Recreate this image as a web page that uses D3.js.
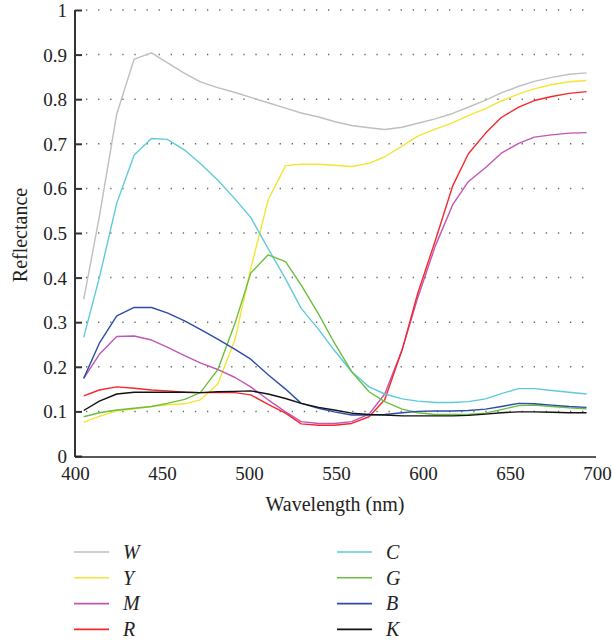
<!DOCTYPE html>
<html>
<head>
<meta charset="utf-8">
<script src="https://cdn.jsdelivr.net/npm/d3@7"></script>
<style>
  body { margin: 0; background: #fff; }
  svg text { font-family: 'Liberation Serif'; fill: #222; }
</style>
</head>
<body>
<script>
// sample wavelengths (nm)
var wavelengths = [405, 414, 424, 434, 444, 453, 463, 472, 482, 492, 501, 511, 521, 530, 540,
  549, 559, 569, 578, 588, 597, 607, 617, 626, 636, 645, 655, 664, 674, 684, 694];

var W = [0.351, 0.537, 0.767, 0.890, 0.904, 0.882, 0.858, 0.839, 0.826, 0.815, 0.804, 0.792, 0.780, 0.769, 0.760,
  0.750, 0.741, 0.736, 0.732, 0.737, 0.746, 0.756, 0.768, 0.782, 0.798, 0.814, 0.829, 0.840, 0.849, 0.856, 0.859];
var Y = [0.076, 0.089, 0.101, 0.106, 0.111, 0.115, 0.117, 0.126, 0.161, 0.262, 0.420, 0.574, 0.651, 0.654, 0.654,
  0.652, 0.649, 0.656, 0.671, 0.695, 0.717, 0.733, 0.747, 0.763, 0.779, 0.796, 0.812, 0.823, 0.833, 0.839, 0.842];
var M = [0.174, 0.228, 0.268, 0.269, 0.260, 0.244, 0.225, 0.209, 0.194, 0.176, 0.155, 0.126, 0.099, 0.077, 0.073,
  0.073, 0.077, 0.094, 0.139, 0.238, 0.355, 0.470, 0.563, 0.615, 0.647, 0.679, 0.701, 0.715, 0.720, 0.724, 0.725];
var R = [0.135, 0.148, 0.155, 0.152, 0.148, 0.146, 0.143, 0.142, 0.142, 0.142, 0.137, 0.116, 0.096, 0.072, 0.069,
  0.069, 0.073, 0.088, 0.126, 0.238, 0.365, 0.482, 0.605, 0.677, 0.724, 0.759, 0.782, 0.797, 0.806, 0.813, 0.817];
var C = [0.266, 0.400, 0.567, 0.675, 0.712, 0.710, 0.686, 0.656, 0.619, 0.576, 0.535, 0.465, 0.397, 0.331, 0.284,
  0.237, 0.189, 0.155, 0.139, 0.128, 0.123, 0.120, 0.120, 0.122, 0.128, 0.140, 0.151, 0.151, 0.147, 0.143, 0.139];
var G = [0.088, 0.097, 0.103, 0.107, 0.111, 0.118, 0.127, 0.142, 0.193, 0.298, 0.410, 0.451, 0.436, 0.383, 0.318,
  0.254, 0.189, 0.144, 0.122, 0.105, 0.097, 0.093, 0.093, 0.093, 0.096, 0.104, 0.113, 0.114, 0.111, 0.108, 0.106];
var B = [0.174, 0.253, 0.314, 0.333, 0.333, 0.321, 0.303, 0.284, 0.262, 0.239, 0.217, 0.182, 0.150, 0.118, 0.107,
  0.099, 0.092, 0.092, 0.093, 0.097, 0.100, 0.101, 0.101, 0.102, 0.105, 0.111, 0.118, 0.117, 0.114, 0.111, 0.109];
var K = [0.102, 0.123, 0.139, 0.143, 0.143, 0.143, 0.143, 0.142, 0.144, 0.145, 0.146, 0.139, 0.129, 0.118, 0.109,
  0.103, 0.096, 0.093, 0.092, 0.090, 0.090, 0.090, 0.090, 0.091, 0.094, 0.097, 0.099, 0.099, 0.098, 0.097, 0.097];

var seriesNames = ['W', 'Y', 'M', 'R', 'C', 'G', 'B', 'K'];
var seriesValues = [W, Y, M, R, C, G, B, K];
var seriesColors = ['#bfbfbf', '#f2e534', '#c156b4', '#f5282d', '#5fcadb', '#6abf3f', '#2c4da6', '#111111'];

var xTicks = [400, 450, 500, 550, 600, 650, 700];
var yTicks = [0, 0.1, 0.2, 0.3, 0.4, 0.5, 0.6, 0.7, 0.8, 0.9, 1];

var width = 612, height = 640;
var svg = d3.select('body').append('svg')
  .attr('width', width).attr('height', height);

var x = d3.scaleLinear().domain([400, 700]).range([75, 597]);
var y = d3.scaleLinear().domain([0, 1]).range([456, 10]);

// dotted grid
svg.append('g').selectAll('line')
  .data(yTicks.filter(function(d) { return d > 0; }))
  .enter().append('line')
  .attr('x1', 86).attr('x2', 594)
  .attr('y1', function(d) { return y(d); })
  .attr('y2', function(d) { return y(d); })
  .attr('stroke', '#666')
  .attr('stroke-width', 1.5)
  .attr('stroke-dasharray', '1.3,10.8');

// y axis
var yAxis = svg.append('g').attr('transform', 'translate(75,0)')
  .call(d3.axisRight(y).tickValues(yTicks).tickSize(7).tickFormat(function(d) { return d3.format('~g')(d); }));
yAxis.attr('font-family', 'Liberation Serif').attr('font-size', 19);
yAxis.select('.domain').attr('stroke', '#333').attr('stroke-width', 2).attr('d', 'M0,' + y(1) + 'V' + (y(0) + 1));
yAxis.selectAll('.tick line').attr('stroke', '#333').attr('stroke-width', 2);
yAxis.selectAll('.tick text')
  .attr('x', -8).attr('dy', '0.34em')
  .attr('text-anchor', 'end');

// x axis
var xAxis = svg.append('g').attr('transform', 'translate(0,' + (y(0) + 1) + ')')
  .call(d3.axisBottom(x).tickValues(xTicks).tickSize(0));
xAxis.attr('font-family', 'Liberation Serif').attr('font-size', 19);
xAxis.select('.domain').attr('stroke', '#222').attr('stroke-width', 1.5).attr('d', 'M75,0H596');
xAxis.selectAll('.tick text')
  .attr('y', 23).attr('dy', null);

svg.append('text')
  .attr('x', 335).attr('y', 511)
  .attr('text-anchor', 'middle')
  .attr('font-size', 20)
  .text('Wavelength (nm)');

svg.append('text')
  .attr('transform', 'translate(27,235) rotate(-90)')
  .attr('text-anchor', 'middle')
  .attr('font-size', 20)
  .text('Reflectance');

// curves
var line = d3.line()
  .x(function(d, i) { return x(wavelengths[i]); })
  .y(function(d) { return y(d); });

svg.append('g').selectAll('path')
  .data(seriesValues)
  .enter().append('path')
  .attr('d', line)
  .attr('fill', 'none')
  .attr('stroke', function(d, i) { return seriesColors[i]; })
  .attr('stroke-width', 1.4)
  .attr('stroke-linejoin', 'round');

// legend
var legend = svg.append('g').selectAll('g')
  .data(seriesNames)
  .enter().append('g')
  .attr('transform', function(d, i) {
    return 'translate(' + (i < 4 ? 74 : 337) + ',' + (552 + (i % 4) * 25.8) + ')';
  });
legend.append('line')
  .attr('x1', 0).attr('x2', 35)
  .attr('stroke', function(d, i) { return seriesColors[i]; })
  .attr('stroke-width', 1.6);
legend.append('text')
  .attr('x', 49).attr('dy', '0.34em')
  .attr('font-size', 20)
  .attr('font-style', 'italic')
  .text(function(d) { return d; });
</script>
</body>
</html>
